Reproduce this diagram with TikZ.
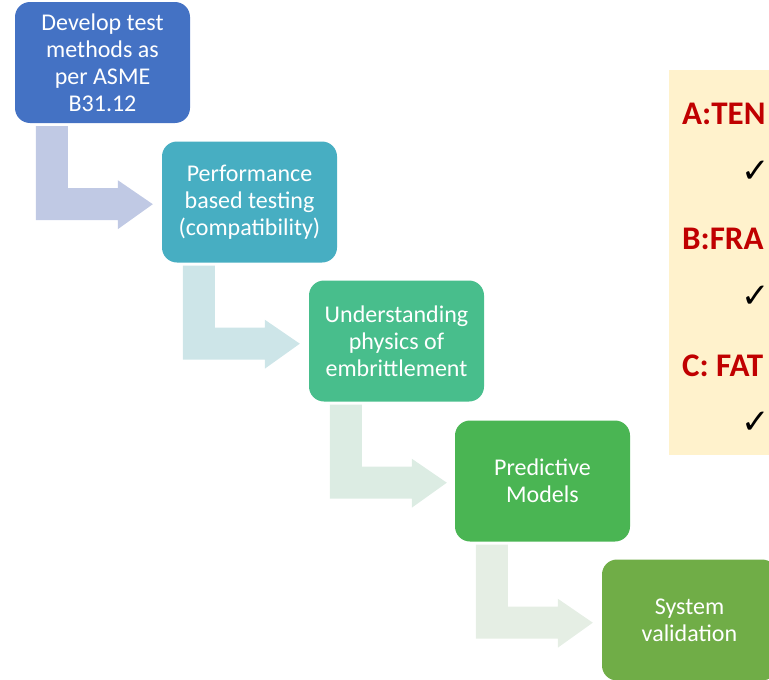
\documentclass[tikz,border=0pt]{standalone}
\usepackage{fontspec}
\setmainfont{Carlito}
\newfontfamily\symfont{DejaVu Sans}
\definecolor{boxA}{HTML}{4472C4}
\definecolor{boxB}{HTML}{47AEC2}
\definecolor{boxC}{HTML}{48BE8C}
\definecolor{boxD}{HTML}{4AB553}
\definecolor{boxE}{HTML}{70AD47}
\definecolor{arrA}{HTML}{C0C9E4}
\definecolor{arrB}{HTML}{CDE5E8}
\definecolor{arrC}{HTML}{DCECE3}
\definecolor{arrD}{HTML}{E5EEE4}
\definecolor{panel}{HTML}{FFF2CC}
\definecolor{headred}{HTML}{C00000}

\begin{document}
\begin{tikzpicture}[x=1pt,y=-1pt,
  stepbox/.style={rectangle,rounded corners=15pt,minimum width=175pt,minimum height=121pt,
    inner sep=0pt,align=center,text=white,font=\fontsize{24}{27}\selectfont},
  head/.style={anchor=base west,inner sep=0pt,text=headred,font=\fontsize{33}{36}\selectfont\bfseries},
  tick/.style={anchor=base east,inner sep=0pt,font=\symfont\fontsize{34}{36}\selectfont}]
  \useasboundingbox (0,0) rectangle (769,680);
  \clip (0,0) rectangle (769,680);
  % steps
  \node[stepbox,fill=boxA] (develop) at (102.5,62.5) {Develop test\\methods as\\per ASME\\B31.12};
  \node[stepbox,fill=boxB] (perform) at (249.5,202) {Performance\\based testing\\(compatibility)};
  \node[stepbox,fill=boxC] (physics) at (396.5,341) {Understanding\\physics of\\embrittlement};
  \node[stepbox,fill=boxD] (predict) at (542.5,481) {Predictive\\Models};
  \node[stepbox,fill=boxE] (validate) at (689.5,620) {System\\validation};
  % bent arrows
  \fill[arrA,shift={(develop.south west)}] (21,3) -- (53,3) -- (53,65) -- (103,65) -- (103,57)
    -- (138,81) -- (103,106) -- (103,97) -- (21,97) -- cycle;
  \fill[arrB,shift={(perform.south west)}] (21,3) -- (53,3) -- (53,65) -- (103,65) -- (103,57)
    -- (138,81) -- (103,106) -- (103,97) -- (21,97) -- cycle;
  \fill[arrC,shift={(physics.south west)}] (21,3) -- (53,3) -- (53,65) -- (103,65) -- (103,57)
    -- (138,81) -- (103,106) -- (103,97) -- (21,97) -- cycle;
  \fill[arrD,shift={(predict.south west)}] (21,3) -- (53,3) -- (53,65) -- (103,65) -- (103,57)
    -- (138,81) -- (103,106) -- (103,97) -- (21,97) -- cycle;
  % tests panel
  \fill[panel] (669,70) rectangle (790,455);
  \node[head] (tensile) at (682,124) {A:TEN};
  \node[tick] (tickA) at (770,182) {✓};
  \node[head] (fracture) at (682,249) {B:FRA};
  \node[tick] (tickB) at (770,307) {✓};
  \node[head] (fatigue) at (682,376) {C: FAT};
  \node[tick] (tickC) at (770,433) {✓};
\end{tikzpicture}
\end{document}
